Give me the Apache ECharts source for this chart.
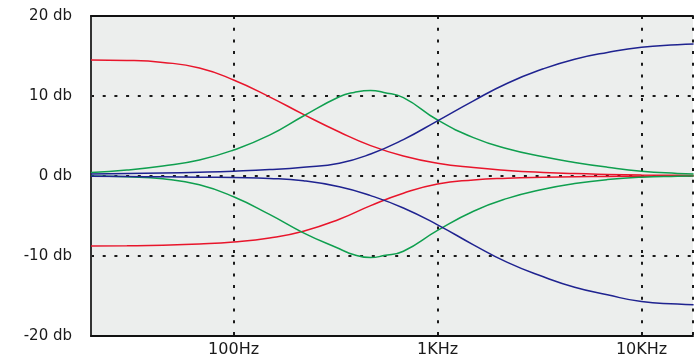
<!DOCTYPE html>
<html>
<head>
<meta charset="utf-8">
<script src="https://cdn.jsdelivr.net/npm/echarts@6/dist/echarts.min.js"></script>
<style>
html,body{margin:0;padding:0;background:#fff;}
#chart{width:696px;height:358px;}
</style>
</head>
<body>
<div id="chart"></div>
<script>
// Frequencies (Hz) at which the shelf curves were read
const freqs = [20, 30, 45, 68, 100, 150, 220, 330, 470, 680, 1000, 1500, 2200, 3300, 4700, 6800, 10000, 15000, 18000];
// Frequencies (Hz) at which the peaking curves were read (denser around the peak)
const peakFreqs = [20, 30, 45, 68, 100, 150, 220, 330, 390, 470, 545, 680, 1000, 1500, 2200, 3300, 4700, 6800, 10000, 15000, 18000];
// Low shelf boost / cut (red)
const redBoost = [14.5, 14.45, 14.2, 13.5, 12.0, 9.9, 7.7, 5.5, 3.8, 2.5, 1.6, 1.05, 0.7, 0.45, 0.3, 0.2, 0.12, 0.08, 0.06];
const redCut = [-8.75, -8.72, -8.65, -8.5, -8.25, -7.75, -6.9, -5.4, -3.7, -2.15, -1.0, -0.5, -0.28, -0.16, -0.1, -0.06, -0.03, -0.02, -0.01];
// Peaking boost / cut (green)
const greenBoost = [0.45, 0.75, 1.25, 2.0, 3.25, 5.1, 7.5, 9.9, 10.45, 10.7, 10.45, 9.8, 7.0, 4.8, 3.4, 2.4, 1.7, 1.1, 0.6, 0.32, 0.25];
const greenCut = [0.0, -0.1, -0.35, -1.1, -2.6, -4.8, -7.1, -9.1, -9.85, -10.2, -9.95, -9.4, -6.8, -4.4, -2.8, -1.65, -0.95, -0.45, -0.15, -0.03, 0.0];
// High shelf boost / cut (blue)
const blueBoost = [0.25, 0.3, 0.37, 0.47, 0.6, 0.8, 1.1, 1.6, 2.75, 4.55, 6.9, 9.4, 11.6, 13.4, 14.6, 15.45, 16.1, 16.4, 16.5];
const blueCut = [-0.03, -0.06, -0.1, -0.15, -0.2, -0.3, -0.6, -1.35, -2.45, -4.0, -6.1, -8.6, -10.8, -12.6, -13.9, -14.85, -15.7, -16.0, -16.1];

const xMin = 20, xMax = 17880;
const xTickValues = [100, 1000, 10000];
const xTickLabels = ['100Hz', '1KHz', '10KHz'];
const yMin = -20, yMax = 20, yStep = 10;
const yUnit = ' db';

const colors = {red: '#e8152b', green: '#0f9f4f', blue: '#1f2390'};

function pairs(fs, vals) { return fs.map((f, i) => [f, vals[i]]); }

const seriesDefs = [
  [freqs, redBoost, colors.red], [freqs, redCut, colors.red],
  [peakFreqs, greenBoost, colors.green], [peakFreqs, greenCut, colors.green],
  [freqs, blueBoost, colors.blue], [freqs, blueCut, colors.blue]
];

const dotted = {color: '#1a1a1a', width: 2, type: [3, 8.7]};

const chart = echarts.init(document.getElementById('chart'));
chart.setOption({
  animation: false,
  backgroundColor: '#ffffff',
  grid: {
    left: 91, top: 16, bottom: 22, right: 0,
    show: true, backgroundColor: '#eceeed', borderWidth: 0
  },
  xAxis: [{
    type: 'log', logBase: 10, min: xMin, max: xMax,
    axisLine: {show: true, onZero: false, lineStyle: {color: '#111', width: 2}},
    axisTick: {show: false},
    splitLine: {show: true, lineStyle: dotted},
    axisLabel: {
      margin: 6,
      fontFamily: 'DejaVu Sans', fontSize: 16, color: '#1a1a1a',
      formatter: function (v) {
        for (let i = 0; i < xTickValues.length; i++) {
          if (Math.abs(v - xTickValues[i]) / xTickValues[i] < 1e-6) return xTickLabels[i];
        }
        return '';
      }
    }
  }, {
    type: 'value', position: 'top', min: 0, max: 1,
    axisLine: {show: true, onZero: false, lineStyle: {color: '#111', width: 2}},
    axisTick: {show: false}, axisLabel: {show: false}, splitLine: {show: false}
  }],
  yAxis: {
    type: 'value', min: yMin, max: yMax, interval: yStep,
    axisLine: {show: true, onZero: false, lineStyle: {color: '#333', width: 2}},
    axisTick: {show: false},
    splitLine: {show: true, lineStyle: dotted},
    axisLabel: {
      margin: 19,
      fontFamily: 'DejaVu Sans', fontSize: 15, color: '#1a1a1a',
      formatter: v => v + yUnit
    }
  },
  series: seriesDefs.map(([fs, vals, c]) => ({
    type: 'line', data: pairs(fs, vals), smooth: 0.5, symbol: 'none',
    lineStyle: {color: c, width: 1.5}
  }))
});
</script>
</body>
</html>
